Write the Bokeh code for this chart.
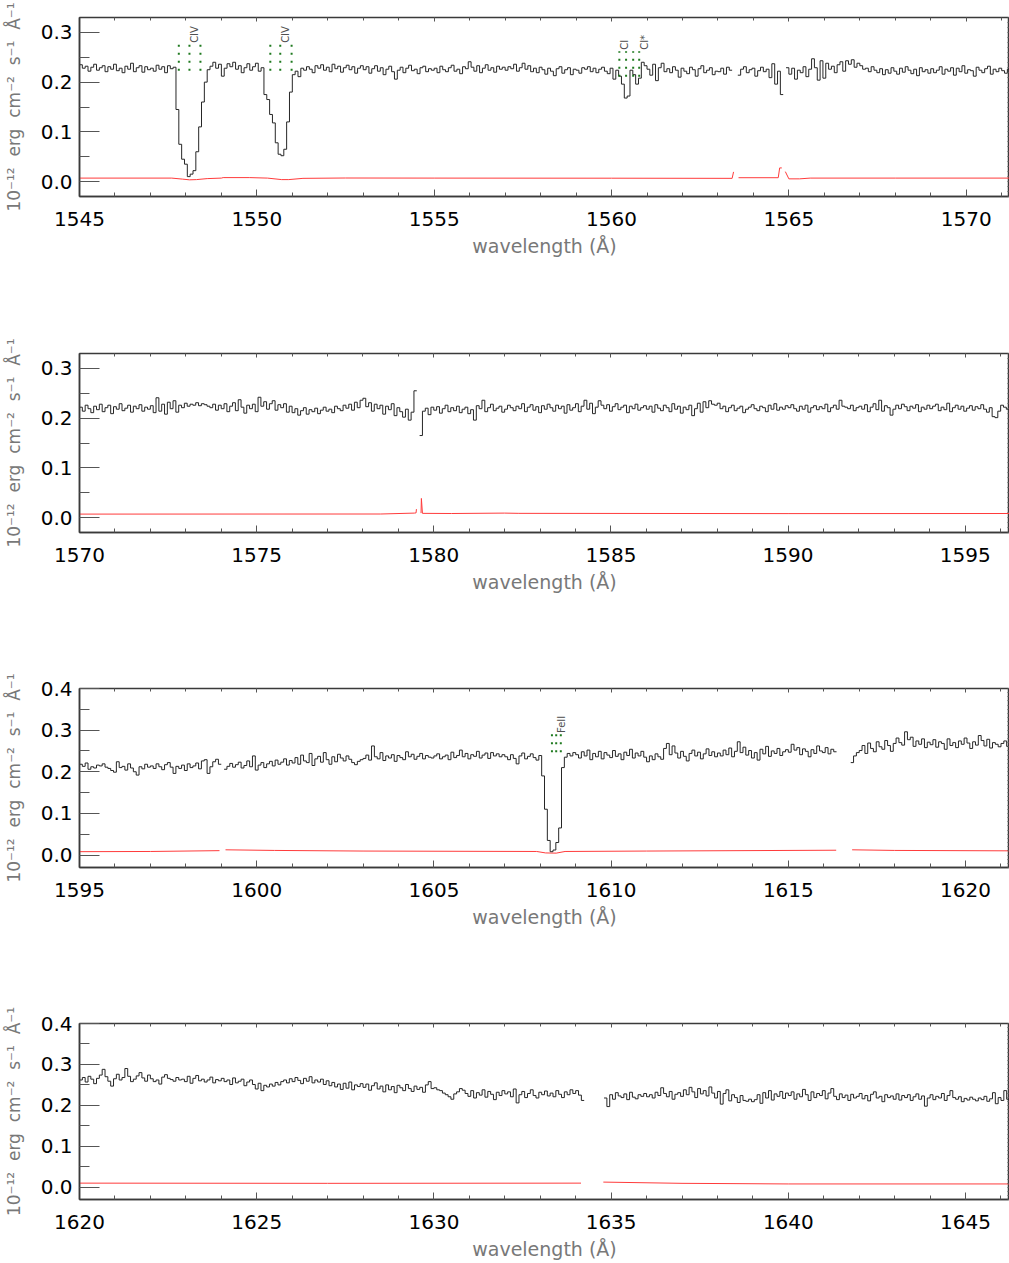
import numpy as np
from bokeh.plotting import figure
from bokeh.layouts import column
from bokeh.models import (Range1d, LinearAxis, FixedTicker, SingleIntervalTicker,
                          PrintfTickFormatter, CustomJSTickFormatter, ColumnDataSource)
from bokeh.core.properties import value
from bokeh.embed import file_html
from bokeh.resources import INLINE

# ---------------- data ----------------
BIN = 0.08                      # Angstrom per spectral bin
panel_start = [1545.0, 1570.0, 1595.0, 1620.0]
panel_end = [1571.22, 1596.25, 1621.24, 1646.24]
panel_ymax = [0.33, 0.33, 0.40, 0.40]
Y_MIN = -0.03
FLUX_UNIT = 1e-3                # flux lists are in units of 1e-3 (x 1e-12 erg cm-2 s-1 A-1)

flux_p1 = [
    235, 228, 232, 222, 230, 236, 224, 229, 233, 221, 231, 226, 236, 223, 228, 219, 232, 226, 238, 221, 229, 233, 220, 231, 225,
    228, 222, 234, 226, 231, 219, 233, 227, 230, 145, 75, 45, 35, 10, 15, 22, 60, 110, 160, 200, 225, 232, 240, 228, 236,
    212, 228, 237, 231, 240, 226, 233, 219, 229, 237, 224, 231, 238, 222, 229, 175, 165, 135, 118, 78, 55, 52, 65, 120, 180,
    215, 222, 211, 228, 224, 231, 226, 219, 233, 228, 235, 224, 230, 221, 236, 227, 232, 220, 229, 234, 225, 231, 218, 228, 233,
    225, 231, 218, 227, 233, 222, 229, 215, 226, 232, 221, 206, 224, 230, 219, 228, 234, 223, 226, 217, 229, 232, 221, 227, 224,
    228, 219, 232, 225, 221, 229, 234, 222, 226, 217, 231, 227, 241, 230, 222, 233, 219, 228, 235, 224, 229, 220, 232, 226, 230,
    224, 231, 227, 236, 222, 229, 238, 226, 233, 221, 228, 219, 230, 225, 216, 228, 222, 213, 227, 231, 218, 225, 229, 215, 226,
    224, 218, 229, 226, 231, 221, 228, 219, 226, 230, 222, 217, 228, 206, 224, 212, 196, 168, 172, 224, 215, 196, 208, 240, 233,
    226, 214, 236, 203, 229, 238, 221, 227, 219, 231, 224, 210, 228, 222, 217, 230, 225, 212, 227, 233, 219, 224, 229, 215, 222,
    221, 228, 216, 230, 224, None, None, 214, 226, 231, 219, 225, 228, 212, 223, 230, 221, 226, 209, 237, 196, 222, 175, None, 229,
    216, 228, 206, 224, 219, 231, 211, 226, 247, 229, 204, 243, 208, 238, 226, 232, 219, 235, 241, 222, 243, 236, 245, 230, 238,
    233, 226, 228, 221, 231, 224, 219, 227, 215, 225, 218, 229, 222, 216, 228, 220, 231, 224, 217, 226, 213, 229, 221, 225, 218,
    227, 219, 224, 231, 216, 226, 222, 229, 214, 228, 221, 233, 218, 225, 223, 212, 230, 224, 219, 227, 232, 216, 226, 221, 228,
    223, 218, 226, 214,
]

flux_p2 = [
    222, 214, 226, 219, 211, 224, 217, 228, 213, 221, 226, 209, 223, 218, 229, 215, 220, 226, 212, 224, 219, 227, 214, 222, 218,
    225, 211, 241, 214, 228, 208, 232, 219, 235, 212, 226, 221, 230, 224, 228, 226, 231, 225, 229, 227, 224, 221, 228, 216, 226,
    219, 229, 213, 224, 231, 215, 237, 222, 210, 226, 219, 228, 213, 242, 224, 233, 218, 229, 235, 216, 227, 221, 229, 212, 224,
    211, 219, 206, 215, 221, 208, 217, 213, 220, 209, 216, 222, 214, 218, 211, 224, 219, 215, 226, 220, 228, 216, 232, 221, 236,
    240, 223, 231, 214, 228, 219, 226, 208, 224, 217, 229, 205, 221, 213, 202, 218, 196, 212, 255, None, 165, 214, 220, 207, 222,
    216, 223, 210, 219, 226, 213, 221, 215, 224, 211, 218, 222, 209, 217, 196, 225, 219, 236, 213, 221, 228, 215, 220, 224, 212,
    218, 226, 221, 215, 224, 219, 229, 213, 222, 227, 216, 223, 211, 225, 218, 228, 221, 214, 226, 219, 224, 210, 227, 216, 221,
    229, 213, 224, 236, 218, 230, 209, 222, 235, 226, 219, 227, 214, 223, 229, 217, 222, 226, 211, 224, 219, 228, 216, 221, 225,
    218, 224, 212, 227, 220, 215, 226, 221, 213, 229, 218, 224, 210, 222, 217, 226, 205, 219, 230, 212, 233, 221, 235, 228, 226,
    230, 219, 224, 213, 221, 226, 215, 220, 224, 211, 218, 222, 227, 219, 215, 224, 221, 213, 226, 218, 229, 216, 222, 218, 225,
    221, 227, 219, 214, 224, 218, 226, 212, 221, 225, 217, 223, 219, 228, 213, 221, 226, 218, 236, 224, 222, 219, 226, 215, 221,
    224, 218, 227, 213, 222, 229, 217, 236, 214, 225, 221, 206, 218, 226, 219, 228, 223, 215, 224, 220, 227, 213, 222, 218, 226,
    219, 224, 228, 215, 222, 217, 230, 213, 221, 226, 218, 224, 214, 220, 225, 216, 223, 219, 227, 218, 212, 221, 203, 201, 214,
    226, 222, 218, 230,
]

flux_p3 = [
    218, 213, 221, 206, 212, 209, 216, 214, 219, 211, 208, 203, 199, 224, 210, 213, 204, 219, 209, 200, 192, 212, 207, 218, 211,
    214, 208, 219, 212, 205, 217, 222, 211, 196, 213, 208, 216, 203, 219, 210, 214, 221, 207, 226, 229, 196, 212, 224, 230, 218,
    None, 206, 213, 220, 211, 217, 223, 209, 215, 226, 212, 238, 204, 216, 222, 210, 219, 225, 214, 228, 218, 223, 231, 216, 227,
    221, 234, 218, 240, 226, 222, 244, 215, 231, 237, 223, 246, 229, 218, 236, 224, 242, 233, 226, 238, 230, 222, 217, 225, 229,
    232, 240, 228, 262, 236, 231, 246, 227, 238, 233, 241, 225, 239, 234, 229, 248, 236, 242, 230, 237, 244, 231, 239, 235, 233,
    238, 243, 231, 236, 240, 229, 247, 234, 239, 252, 236, 244, 231, 241, 237, 249, 233, 240, 245, 232, 246, 238, 243, 236, 241,
    236, 229, 241, 232, 219, 238, 245, 231, 237, 243, 234, 228, 239, 190, 110, 35, 8, 12, 30, 65, 210, 235, 244, 238, 246,
    241, 233, 248, 238, 252, 229, 244, 236, 249, 231, 246, 240, 234, 251, 237, 243, 229, 247, 239, 254, 233, 245, 238, 249, 235,
    224, 238, 229, 243, 236, 230, 256, 268, 241, 262, 245, 233, 249, 237, 226, 244, 252, 238, 247, 231, 243, 255, 239, 248, 236,
    245, 238, 252, 241, 257, 236, 249, 272, 246, 259, 240, 251, 233, 246, 228, 254, 243, 261, 237, 250, 244, 256, 239, 248, 253,
    247, 266, 252, 258, 241, 255, 249, 236, 253, 244, 262, 250, 246, 258, 243, 254, 248, None, None, None, None, None, 222, 238, 246,
    251, 263, 244, 269, 256, 248, 272, 260, 254, 275, 263, 249, 268, 281, 270, 264, 296, 277, 283, 261, 274, 266, 279, 258, 271,
    265, 277, 259, 272, 268, 254, 279, 263, 270, 258, 274, 266, 281, 269, 256, 272, 264, 287, 275, 262, 278, 257, 270, 266, 260,
    268, 274, 261, 270,
]

flux_p4 = [
    262, 268, 257, 271, 264, 253, 266, 274, 288, 270, 259, 247, 265, 276, 262, 268, 290, 271, 258, 264, 272, 280, 267, 259, 274,
    265, 258, 262, 252, 269, 275, 266, 263, 259, 268, 262, 264, 258, 271, 254, 266, 273, 260, 264, 257, 262, 269, 255, 263, 260,
    266, 258, 262, 251, 267, 255, 259, 264, 248, 257, 262, 251, 240, 254, 236, 249, 245, 252, 247, 256, 250, 258, 262, 255, 265,
    258, 268, 261, 253, 266, 259, 270, 255, 262, 257, 264, 251, 260, 248, 256, 245, 252, 239, 254, 242, 257, 238, 250, 246, 253,
    244, 252, 237, 248, 255, 240, 247, 233, 250, 238, 246, 231, 249, 243, 236, 251, 241, 234, 247, 239, 244, 232, 250, 258, 241,
    243, 238, 236, 230, 226, 221, 215, 228, 233, 241, 237, 229, 222, 236, 218, 231, 225, 238, 220, 234, 227, 214, 232, 224, 236,
    228, 233, 221, 240, 206, 226, 234, 219, 229, 238, 224, 218, 232, 226, 235, 223, 230, 221, 236, 227, 219, 233, 226, 238, 229,
    236, 225, 212, None, None, None, None, None, None, None, 218, 197, 226, 215, 231, 223, 219, 228, 214, 232, 220, 216, 226, 222, 229,
    221, 226, 218, 232, 224, 243, 229, 221, 234, 215, 227, 231, 222, 238, 226, 244, 233, 219, 241, 228, 236, 223, 245, 230, 218,
    234, 203, 229, 238, 211, 226, 219, 207, 224, 212, 210, 215, 209, 214, 226, 205, 231, 218, 236, 213, 228, 222, 234, 217, 230,
    224, 233, 215, 228, 221, 239, 226, 212, 233, 219, 229, 224, 236, 216, 230, 241, 222, 214, 228, 219, 225, 212, 227, 218, 222,
    229, 216, 224, 211, 227, 233, 218, 222, 209, 226, 219, 223, 215, 228, 213, 224, 219, 226, 212, 221, 228, 215, 223, 198, 218,
    226, 214, 222, 218, 229, 212, 224, 236, 219, 215, 221, 209, 217, 213, 220, 215, 211, 218, 214, 222, 210, 216, 231, 204, 219,
    212, 236, 215, 220,
]

# error spectrum (same units), sampled at the listed wavelengths; None = data gap
err_wave_p1 = [1545.0, 1547.6, 1547.9, 1548.1, 1548.3, 1548.6, 1549.0, 1549.05, 1549.8, 1550.3,
               1550.7, 1550.9, 1551.3, 1552.5, 1555.0, 1560.0, 1563.40, 1563.44, 1563.46, 1563.58,
               1564.70, 1564.74, 1564.80, 1564.82, 1564.90, 1565.00, 1565.30, 1565.60, 1568.0, 1571.3]
err_p1 = [7.0, 7.0, 5.0, 3.5, 4.0, 6.0, 7.0, 8.0, 8.0, 7.0,
          4.0, 4.0, 6.5, 7.2, 7.0, 6.8, 6.5, 19.5, None, 7.8,
          7.8, 27.5, 27.5, None, 20.0, 5.5, 5.5, 7.0, 7.0, 7.0]
err_wave_p2 = [1570.0, 1578.5, 1579.45, 1579.50, 1579.51, 1579.53, 1579.64, 1579.65, 1579.68,
               1580.5, 1582.0, 1582.4, 1590.0, 1596.3]
err_p2 = [7.0, 7.2, 9.0, 9.5, 17.0, None, 9.0, 38.5, 8.5, 8.2, 9.0, 8.5, 8.0, 8.2]
err_wave_p3 = [1595.0, 1597.0, 1598.95, 1598.97, 1599.12, 1600.5, 1603.0, 1607.9, 1608.15,
               1608.45, 1608.7, 1611.0, 1616.35, 1616.37, 1616.80, 1618.0, 1621.3]
err_p3 = [8.0, 8.5, 10.5, None, 12.5, 11.0, 9.5, 8.5, 5.0, 4.5, 8.5, 9.5, 11.5, None, 12.5, 11.0, 10.0]
err_wave_p4 = [1620.0, 1627.0, 1634.15, 1634.18, 1634.78, 1637.0, 1640.0, 1646.3]
err_p4 = [10.0, 9.5, 10.0, None, 12.5, 9.5, 8.0, 8.0]

# absorption line identifications
mark_panel = [0, 0, 0, 0, 0, 0, 0, 0, 0, 0, 2, 2, 2]
mark_wave = [1547.80, 1548.10, 1548.41, 1550.38, 1550.66, 1550.98,
             1560.22, 1560.41, 1560.61, 1560.78, 1608.33, 1608.45, 1608.58]
mark_lo = [0.223, 0.223, 0.223, 0.223, 0.223, 0.223, 0.211, 0.211, 0.211, 0.211, 0.247, 0.247, 0.247]
mark_hi = [0.276, 0.276, 0.276, 0.276, 0.276, 0.276, 0.262, 0.262, 0.262, 0.262, 0.290, 0.290, 0.290]
ion_panel = [0, 0, 0, 0, 2]
ion_name = ["CIV", "CIV", "CI", "CI*", "FeII"]
ion_wave = [1548.10, 1550.66, 1560.22, 1560.78, 1608.45]
ion_flux = [0.279, 0.279, 0.265, 0.265, 0.293]

flux_lists = [flux_p1, flux_p2, flux_p3, flux_p4]
err_waves = [err_wave_p1, err_wave_p2, err_wave_p3, err_wave_p4]
err_lists = [err_p1, err_p2, err_p3, err_p4]

X_LABEL = "wavelength (\u00c5)"
Y_LABEL = "10\u207b\u00b9\u00b2 \u00a0erg \u00a0cm\u207b\u00b2 \u00a0s\u207b\u00b9 \u00a0\u00c5\u207b\u00b9"

# ---------------- layout ----------------
W = 1009
FRAME_H = 179
tops = [17, 25, 25, 25]
bottoms = [132, 131, 131, 60]
FONT = "DejaVu Sans"
AX_COL = "#3a3a3a"
TICK_COL = "#555555"


def step_path(start, vals):
    v = np.array(vals, dtype=float) * FLUX_UNIT
    edges = start + BIN * np.arange(len(v) + 1)
    xs = np.repeat(edges, 2)[1:-1]
    ys = np.repeat(v, 2)
    return xs, ys


figs = []
for i in range(4):
    p = figure(width=W, height=tops[i] + FRAME_H + bottoms[i],
               x_range=Range1d(panel_start[i], panel_end[i]),
               y_range=Range1d(Y_MIN, panel_ymax[i]),
               output_backend="svg", toolbar_location=None,
               min_border_left=75, min_border_right=0,
               min_border_top=tops[i], min_border_bottom=bottoms[i],
               x_axis_label=X_LABEL, y_axis_label=Y_LABEL)
    p.grid.visible = False
    p.outline_line_color = AX_COL
    p.outline_line_width = 1.5
    p.background_fill_color = "white"
    p.border_fill_color = "white"

    xa = p.xaxis[0]
    xa.ticker = SingleIntervalTicker(interval=5, num_minor_ticks=5)
    xa.major_tick_in = 7
    xa.major_tick_out = 0
    xa.minor_tick_in = 4
    xa.minor_tick_out = 0
    xa.major_tick_line_color = TICK_COL
    xa.minor_tick_line_color = TICK_COL
    xa.axis_line_color = AX_COL
    xa.axis_line_width = 1.5
    xa.major_label_text_font = FONT
    xa.major_label_text_font_size = "20px"
    xa.major_label_text_color = "black"
    xa.major_label_standoff = 15
    xa.axis_label_text_font = FONT
    xa.axis_label_text_font_size = "19px"
    xa.axis_label_text_font_style = "normal"
    xa.axis_label_text_color = "#787878"
    xa.axis_label_standoff = 6

    ya = p.yaxis[0]
    yt = [t / 10 for t in range(0, 5) if t / 10 <= panel_ymax[i] + 1e-9]
    ym = [t / 100 for t in range(5, 45, 10) if t / 100 <= panel_ymax[i]]
    ya.ticker = FixedTicker(ticks=yt, minor_ticks=ym)
    ya.formatter = PrintfTickFormatter(format="%.1f")
    ya.major_tick_in = 20
    ya.major_tick_out = 0
    ya.minor_tick_in = 10
    ya.minor_tick_out = 0
    ya.major_tick_line_color = TICK_COL
    ya.minor_tick_line_color = TICK_COL
    ya.axis_line_color = AX_COL
    ya.axis_line_width = 1.5
    ya.major_label_text_font = FONT
    ya.major_label_text_font_size = "20px"
    ya.major_label_text_color = "black"
    ya.major_label_standoff = 7
    ya.axis_label_text_font = FONT
    ya.axis_label_text_font_size = "17px"
    ya.axis_label_text_font_style = "normal"
    ya.axis_label_text_color = "#787878"
    ya.axis_label_standoff = 14

    blank = CustomJSTickFormatter(code="return ''")
    top = LinearAxis(ticker=SingleIntervalTicker(interval=5, num_minor_ticks=5),
                     formatter=blank, major_tick_in=4, major_tick_out=0,
                     minor_tick_in=3, minor_tick_out=0, major_label_standoff=0,
                     major_tick_line_color=TICK_COL, minor_tick_line_color=TICK_COL,
                     axis_line_color=None, major_label_text_font_size="1px")
    p.add_layout(top, "above")
    tiny = [round(-0.03 + 0.01 * k, 2) for k in range(0, 44) if -0.03 + 0.01 * k <= panel_ymax[i]]
    right = LinearAxis(ticker=FixedTicker(ticks=[], minor_ticks=tiny),
                       formatter=blank, major_tick_in=0, major_tick_out=0,
                       minor_tick_in=2, minor_tick_out=0, major_label_standoff=0,
                       minor_tick_line_color=TICK_COL,
                       axis_line_color=None, major_label_text_font_size="1px")
    p.add_layout(right, "right")

    # error spectrum
    ew = np.array(err_waves[i], dtype=float)
    ev = np.array(err_lists[i], dtype=float) * FLUX_UNIT
    p.line(ew, ev, line_color="#ff3b3b", line_width=1)

    # flux spectrum (histogram style)
    xs, ys = step_path(panel_start[i], flux_lists[i])
    p.line(xs, ys, line_color="#262626", line_width=1)

    # line identifications
    mk = [k for k in range(len(mark_wave)) if mark_panel[k] == i]
    if mk:
        p.segment(x0=[mark_wave[k] for k in mk], y0=[mark_lo[k] for k in mk],
                  x1=[mark_wave[k] for k in mk], y1=[mark_hi[k] for k in mk],
                  line_color="#1f7a1f", line_width=2, line_dash="2 6")
    ik = [k for k in range(len(ion_name)) if ion_panel[k] == i]
    if ik:
        src = ColumnDataSource(dict(x=[ion_wave[k] for k in ik],
                                    y=[ion_flux[k] for k in ik],
                                    t=[ion_name[k] for k in ik]))
        p.text(x="x", y="y", text="t", source=src, angle=np.pi / 2,
               text_align="left", text_baseline="top",
               text_font=value(FONT), text_font_size="10px", text_color="#505050")
    figs.append(p)

layout = column(*figs, spacing=0)
open("out.html", "w").write(file_html(layout, INLINE))
